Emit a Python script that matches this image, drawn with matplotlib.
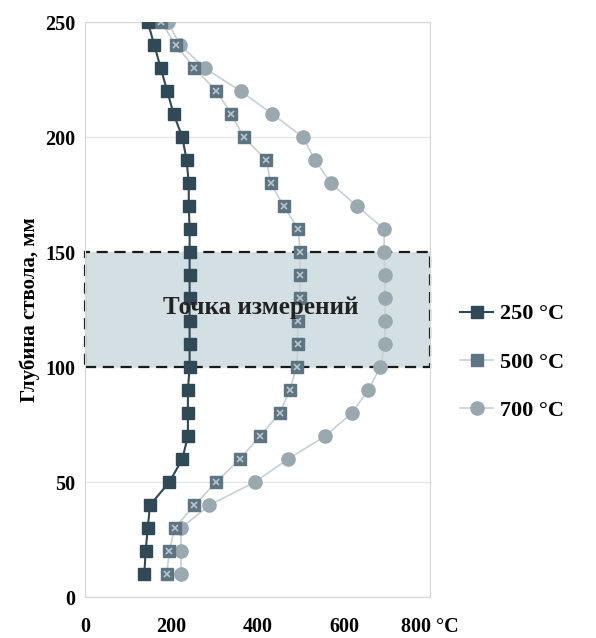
import numpy as np
import matplotlib.pyplot as plt
from matplotlib.patches import Rectangle

# глубина ствола, мм
depth = [250, 240, 230, 220, 210, 200, 190, 180, 170, 160, 150, 140, 130,
         120, 110, 100, 90, 80, 70, 60, 50, 40, 30, 20, 10]
t250 = [145, 160, 175, 190, 205, 225, 235, 240, 240, 242, 242, 242, 242,
        242, 242, 242, 238, 238, 238, 225, 195, 150, 145, 140, 137]
t500 = [176, 210, 253, 304, 339, 367, 420, 430, 460, 494, 498, 498, 498,
        493, 493, 490, 474, 451, 405, 358, 304, 253, 207, 195, 189]
t700 = [191, 220, 277, 360, 434, 504, 533, 569, 630, 693, 693, 695, 695,
        695, 695, 684, 656, 618, 556, 470, 393, 288, 222, 222, 222]
labels = ['250 °C', '500 °C', '700 °C']
xticks = [0, 200, 400, 600, 800]
xticklabels = ['0', '200', '400', '600', '800 °C']
yticks = [0, 50, 100, 150, 200, 250]

serif = ['Liberation Serif', 'DejaVu Serif']
plt.rcParams['font.family'] = serif

fig = plt.figure(figsize=(5.96, 6.38), dpi=100)
ax = fig.add_axes([0.143, 0.064, 0.579, 0.9015])

# область измерений
ax.add_patch(Rectangle((0, 100), 800, 50, facecolor='#d3dfe3', edgecolor='#1a1a1a',
                       linestyle=(0, (5, 3)), linewidth=1.6, zorder=1, clip_on=False))
ax.text(407, 126, 'Точка измерений', ha='center', va='center', fontsize=18,
        fontweight='bold', color='#222222', zorder=10)

c700 = '#9aa9b0'
c500 = '#5d7483'
c250 = '#2f4957'

ax.plot(t700, depth, color='#c8d0d4', linewidth=1.2, marker='o', markersize=9.5,
        markerfacecolor=c700, markeredgecolor=c700, zorder=3, label=labels[2])
ax.plot(t500, depth, color='#c8d0d4', linewidth=1.2, marker='s', markersize=8,
        markerfacecolor=c500, markeredgecolor=c500, zorder=4, label=labels[1])
ax.plot(t500, depth, linestyle='none', marker='x', markersize=5, markeredgewidth=1.2,
        markeredgecolor='#b9c6cc', zorder=4.5)
ax.plot(t250, depth, color=c250, linewidth=1.5, marker='s', markersize=8,
        markerfacecolor=c250, markeredgecolor=c250, zorder=4.6, label=labels[0])

ax.set_xlim(0, 800)
ax.set_ylim(0, 250)
ax.set_xticks(xticks)
ax.set_xticklabels(xticklabels)
ax.set_yticks(yticks)
ax.grid(axis='y', color='#e6e6e6', linewidth=1)
ax.set_axisbelow(True)
for s in ax.spines.values():
    s.set_color('#d6d6d6')
ax.tick_params(length=0, labelsize=14.5, pad=7)
for lab in ax.get_xticklabels() + ax.get_yticklabels():
    lab.set_fontweight('bold')
ax.tick_params(axis='x', pad=14)
ax.set_ylabel('Глубина ствола, мм', fontsize=15, fontweight='bold', labelpad=4)

h, l = ax.get_legend_handles_labels()
order = [2, 1, 0]
leg = fig.legend([h[i] for i in order], [l[i] for i in order], loc='center left',
                 bbox_to_anchor=(0.738, 0.432), frameon=False,
                 prop={'weight': 'bold', 'size': 16}, labelspacing=1.25,
                 handlelength=1.5, handletextpad=0.3)

fig.savefig('out.png', dpi=100)
